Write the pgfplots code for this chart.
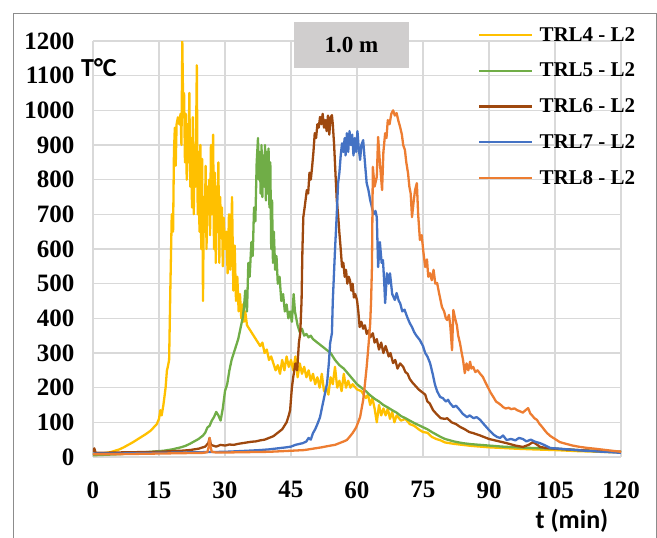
\documentclass[border=0pt]{standalone}
\usepackage{fontspec}
\setmainfont{Liberation Serif}
\newfontfamily\carlito{Carlito}
\usepackage{pgfplots}
\pgfplotsset{compat=1.18}
\definecolor{cfour}{HTML}{FFC000}
\definecolor{cfive}{HTML}{70AD47}
\definecolor{csix}{HTML}{9E480E}
\definecolor{cseven}{HTML}{4472C4}
\definecolor{ceight}{HTML}{ED7D31}
\definecolor{gridc}{HTML}{D9D9D9}
\definecolor{framec}{HTML}{8C8C8C}
\definecolor{boxc}{HTML}{D0CECE}

\begin{document}
\begin{tikzpicture}[x=1pt,y=1pt]
\useasboundingbox (0,0) rectangle (657,-538);
\draw[framec, line width=0.9pt] (13,-540) -- (13,-13) -- (656,-13) -- (656,-540);
\begin{axis}[
  at={(93pt,-457pt)}, anchor=south west,
  scale only axis, width=528pt, height=416pt,
  xmin=0, xmax=120, ymin=0, ymax=1200,
  xtick={0,15,...,120}, ytick={0,100,...,1200},
  grid=major, grid style={gridc, line width=1.5pt},
  axis line style={draw=none},
  major tick length=0pt,
  tick label style={font=\fontsize{25}{25}\selectfont\bfseries},
  /pgf/number format/assume math mode=true,
  /pgf/number format/1000 sep={},
  yticklabel style={xshift=-15pt},
  xticklabel style={yshift=-21pt},
  every axis plot/.append style={line width=2.3pt, line join=round},
  legend image code/.code={\draw[#1] (0pt,0pt) -- (53pt,0pt);},
  legend cell align=left,
  legend style={at={(0.7292,1.0337)}, anchor=north west,
    draw=none, fill=none, inner sep=0pt,
    font=\fontsize{21}{21}\selectfont\bfseries,
    nodes={inner sep=0pt}, row sep=20.4pt, column sep=6pt},
]
% TRL4 - L2
\addplot[cfour] coordinates {(0,10) (1,10) (2,10) (3,12) (4,14) (5,18) (6,22) (7,28) (8,35) (9,42) (10,50) (11,58) (12,66) (13,75) (14,88) (14.5,95) (15,110) (15.3,135) (15.6,120) (16,150) (16.5,200) (16.8,250) (17,260) (17.3,280) (17.6,500) (17.9,700) (18.2,650) (18.4,880) (18.6,950) (18.8,840) (19,960) (19.3,980) (19.6,960) (19.9,990) (20.1,900) (20.3,1200) (20.5,1000) (20.7,1050) (20.9,850) (21.1,990) (21.3,800) (21.5,960) (21.7,850) (21.9,1050) (22.1,780) (22.3,920) (22.5,720) (22.7,980) (22.9,700) (23.1,900) (23.3,780) (23.6,1130) (23.8,700) (24,880) (24.2,650) (24.4,900) (24.6,600) (24.8,860) (25,450) (25.2,750) (25.4,650) (25.6,840) (25.8,600) (26,780) (26.2,700) (26.4,800) (26.6,640) (26.8,900) (27,700) (27.3,930) (27.5,600) (27.7,820) (27.9,560) (28.1,780) (28.3,650) (28.5,850) (28.7,560) (28.9,750) (29.1,650) (29.3,720) (29.5,550) (29.7,690) (30,600) (30.3,650) (30.6,530) (30.9,700) (31.2,540) (31.6,750) (31.9,480) (32.2,610) (32.5,450) (32.8,520) (33.1,420) (33.4,470) (33.7,400) (34,440) (34.3,390) (34.6,420) (35,380) (35.5,370) (36,360) (36.5,350) (37,340) (37.5,330) (38,320) (38.5,330) (39,300) (39.5,310) (40,280) (40.5,290) (41,270) (41.5,250) (42,265) (42.5,240) (43,280) (43.5,250) (44,290) (44.5,260) (45,280) (45.5,250) (46,290) (46.5,230) (47,270) (47.5,240) (48,260) (48.5,230) (49,250) (49.5,220) (50,240) (50.5,210) (51,230) (51.5,200) (52,240) (52.5,190) (53,200) (53.5,180) (54,230) (54.5,210) (55,260) (55.5,200) (56,220) (56.5,190) (57,240) (57.5,200) (58,220) (58.5,200) (59,210) (60,195) (61,190) (62,170) (62.5,180) (63,150) (63.5,170) (64,140) (64.5,100) (65,150) (65.5,120) (66,140) (66.5,120) (67,140) (67.5,110) (68,130) (68.5,100) (69,120) (70,105) (71,110) (72,95) (73,90) (74,80) (75,72) (76,70) (77,58) (78,52) (79,48) (80,42) (82,38) (84,35) (86,32) (88,30) (90,28) (93,26) (96,24) (100,22) (105,20) (110,17) (115,15) (120,13)};
\addlegendentry{TRL4 - L2}
% TRL5 - L2
\addplot[cfive] coordinates {(0,5) (2,6) (4,7) (6,8) (8,10) (10,12) (12,14) (14,16) (16,18) (18,22) (20,28) (21,32) (22,38) (23,45) (24,52) (25,62) (25.5,70) (26,85) (26.5,90) (27,105) (27.5,115) (28,130) (28.5,120) (29,105) (29.5,140) (30,190) (30.5,210) (31,250) (31.5,280) (32,300) (32.5,320) (33,340) (33.5,370) (34,400) (34.3,430) (34.6,480) (35,420) (35.3,560) (35.6,520) (36,620) (36.3,580) (36.6,720) (36.9,680) (37.2,850) (37.5,920) (37.7,800) (37.9,880) (38.1,760) (38.3,900) (38.5,750) (38.7,870) (38.9,780) (39.1,900) (39.3,740) (39.5,880) (39.7,760) (39.9,890) (40.1,720) (40.3,850) (40.5,600) (40.7,740) (40.9,560) (41.1,650) (41.4,540) (41.7,580) (42,500) (42.4,520) (42.8,450) (43.2,470) (43.6,420) (44,440) (44.4,400) (44.8,420) (45.2,390) (45.6,470) (45.9,420) (46.2,400) (46.5,380) (47,360) (47.5,370) (48,350) (48.5,355) (49,345) (49.5,350) (50,340) (51,330) (52,320) (53,310) (54,300) (55,280) (56,265) (57,255) (58,240) (59,225) (60,210) (61,200) (62,190) (63,178) (64,168) (65,160) (66,150) (67,143) (68,135) (69,128) (70,118) (71,112) (72,105) (73,98) (74,92) (75,86) (76,80) (77,72) (78,65) (79,58) (80,52) (82,45) (84,40) (86,37) (88,35) (90,33) (93,30) (96,28) (100,26) (105,24) (110,20) (115,17) (120,15)};
\addlegendentry{TRL5 - L2}
% TRL6 - L2
\addplot[csix] coordinates {(0,15) (0.3,25) (0.6,12) (2,12) (5,13) (10,14) (15,15) (18,17) (20,18) (22,20) (24,24) (25.5,30) (26.2,40) (26.5,55) (26.8,35) (27.5,32) (28,30) (29,35) (30,33) (31,36) (32,35) (33,38) (34,40) (35,42) (36,44) (37,45) (38,48) (39,50) (40,55) (41,60) (42,70) (43,80) (44,100) (44.5,120) (44.8,135) (45.2,200) (45.5,230) (46,270) (46.4,250) (46.8,330) (47.1,357) (47.4,450) (47.6,600) (47.8,692) (48.1,720) (48.4,750) (48.6,770) (48.9,760) (49.2,820) (49.5,800) (49.8,837) (50.1,880) (50.4,934) (50.7,920) (51,960) (51.3,950) (51.6,981) (51.9,960) (52.2,990) (52.5,950) (52.8,972) (53.1,940) (53.4,985) (53.7,930) (54,980) (54.3,986) (54.5,960) (54.8,900) (55.1,820) (55.4,741) (55.7,700) (56,646) (56.3,600) (56.6,548) (56.9,560) (57.2,520) (57.5,540) (57.8,500) (58.1,520) (58.4,510) (58.7,480) (59,500) (59.3,460) (59.6,470) (60,453) (60.3,420) (60.6,375) (61,390) (61.4,370) (61.8,380) (62.2,355) (62.6,365) (63,345) (63.6,357) (64,330) (64.5,340) (65,310) (65.5,330) (66,300) (66.5,320) (66.8,308) (67.2,290) (67.6,300) (68.2,271) (68.7,280) (69.2,255) (69.8,270) (70.5,260) (71,245) (71.5,240) (72,225) (72.7,213) (73.3,205) (74,195) (75,185) (75.5,180) (76,160) (76.5,155) (77.3,135) (78,125) (79,112) (80,110) (80.5,112) (81.5,100) (82.5,95) (83.4,87) (84.5,80) (85.5,72) (86.4,69) (88,62) (90,52) (92,46) (94,40) (96,33) (97.7,29) (99,35) (100,43) (101,35) (101.6,29) (103,26) (105,24) (110,20) (115,17) (120,15)};
\addlegendentry{TRL6 - L2}
% TRL7 - L2
\addplot[cseven] coordinates {(0,10) (5,10) (10,11) (15,12) (20,13) (25,14) (30,15) (35,18) (38,20) (40,22) (42,25) (44,28) (45,30) (46,35) (47,38) (47.7,40) (48.5,45) (49,55) (49.5,50) (50,69) (50.5,80) (51,95) (51.6,115) (52,140) (52.5,170) (53.2,213) (53.6,270) (53.9,329) (54.3,357) (54.5,450) (55,597) (55.4,700) (55.7,790) (56,820) (56.3,870) (56.6,905) (56.9,880) (57.2,920) (57.4,870) (57.7,934) (58,880) (58.3,940) (58.6,900) (58.9,930) (59.2,870) (59.5,920) (59.8,880) (60.1,940) (60.4,890) (60.7,857) (61,900) (61.4,914) (61.8,850) (62.2,790) (62.6,770) (63,741) (63.4,720) (63.8,700) (64.2,710) (64.5,692) (64.8,548) (65.2,620) (65.6,560) (65.9,568) (66.2,500) (66.4,444) (66.8,530) (67.2,500) (67.5,530) (68,470) (68.6,453) (69,473) (69.5,450) (69.8,444) (70.3,420) (70.8,425) (71.4,404) (72,386) (72.5,375) (73,360) (73.5,350) (74.3,337) (75,320) (75.5,300) (76,290) (76.6,271) (77.2,240) (77.7,210) (78.2,190) (78.9,173) (79.5,170) (80.2,160) (80.7,165) (81.1,156) (81.9,144) (82.5,148) (83.4,135) (84,125) (85,115) (85.6,120) (86.5,112) (87.2,115) (88,107) (88.8,95) (89.5,85) (90.2,75) (91,65) (91.8,58) (92.5,55) (93.2,62) (94,49) (95,52) (96,48) (96.8,55) (97.7,52) (98.5,45) (99.5,50) (100.5,44) (101.6,40) (102.5,35) (103.9,26) (105,25) (108,22) (112,18) (116,15) (120,12)};
\addlegendentry{TRL7 - L2}
% TRL8 - L2
\addplot[ceight] coordinates {(0,8) (5,8) (10,9) (15,10) (20,11) (25,12) (26,14) (26.3,30) (26.5,55) (26.7,30) (27,15) (28,13) (30,13) (35,14) (40,15) (45,18) (48,20) (50,24) (52,28) (54,33) (55,35) (56,40) (57,45) (57.7,49) (58.3,58) (59,69) (59.8,85) (60.7,115) (61.4,164) (61.8,210) (62.2,260) (62.6,320) (63,386) (63.2,450) (63.4,548) (63.6,837) (64,780) (64.5,808) (64.8,923) (65.2,850) (65.7,770) (66,880) (66.4,934) (66.7,920) (67,972) (67.4,960) (67.8,990) (68.2,1000) (68.6,985) (69,992) (69.4,970) (69.8,952) (70.2,930) (70.5,900) (70.9,885) (71.2,850) (71.6,819) (71.9,780) (72.2,760) (72.5,692) (72.9,740) (73.2,770) (73.6,790) (73.9,700) (74.3,626) (74.7,640) (75.1,590) (75.5,548) (75.9,570) (76.2,520) (76.6,530) (77,510) (77.4,540) (77.8,500) (78.2,502) (78.7,470) (79.3,433) (79.8,420) (80.2,400) (80.5,395) (80.9,410) (81.2,380) (81.6,308) (81.9,424) (82.3,400) (82.7,380) (83,350) (83.4,329) (83.8,300) (84.1,280) (84.5,242) (84.9,270) (85.3,250) (85.7,275) (86,255) (86.4,260) (86.9,245) (87.4,250) (88,240) (88.6,231) (89.2,215) (89.8,200) (90.4,185) (91,173) (91.6,160) (92.2,155) (92.7,150) (93.2,144) (93.8,140) (94.5,142) (95,138) (95.8,140) (96.4,135) (97,132) (97.7,128) (98.3,135) (98.9,141) (99.4,125) (99.8,120) (100.3,112) (100.9,107) (101.5,95) (102,88) (102.6,78) (103.2,69) (104,60) (105,52) (106.1,43) (107.5,38) (109,33) (110.7,29) (112.5,26) (114,24) (116,21) (118,18) (120,15)};
\addlegendentry{TRL8 - L2}
\end{axis}
\fill[boxc] (294,-22) rectangle (409,-68);
\node[font=\fontsize{23}{23}\selectfont\bfseries] at (351.5,-45) {1.0 m};
\node[font=\carlito\fontsize{26}{26}\selectfont\bfseries] at (99,-68) {T°C};
\node[font=\carlito\fontsize{26}{26}\selectfont\bfseries] at (572,-521) {t (min)};
\end{tikzpicture}
\end{document}
